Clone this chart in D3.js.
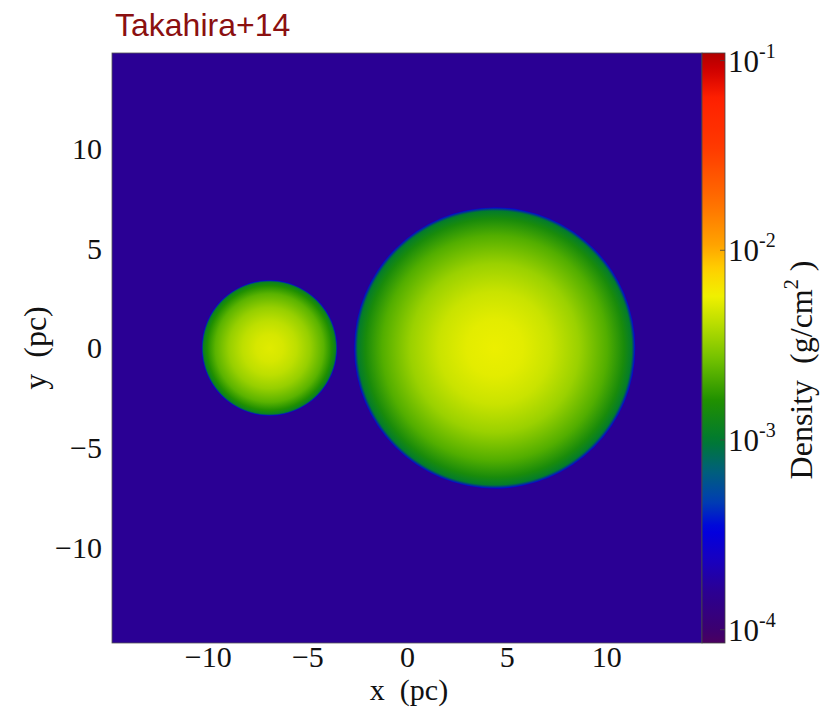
<!DOCTYPE html>
<html>
<head>
<meta charset="utf-8">
<script src="https://cdn.jsdelivr.net/npm/d3@7"></script>
<style>
  body { margin: 0; background: #fff; }
  svg { display: block; }
</style>
</head>
<body>
<div id="chart"></div>
<script>
const W = 827, H = 710;
const plot = { left: 112, top: 53, size: 590 };
const cbar = { left: 702, width: 23 };

// axis ranges (pc) and ticks
const xDomain = [-14.8, 14.8];
const yDomain = [-14.8, 14.8];
const xTicks = [-10, -5, 0, 5, 10];
const yTicks = [-10, -5, 0, 5, 10];

// clouds (pc)
const cloudNames = ["small", "large"];
const cloudX = [-6.9, 4.4];
const cloudY = [0, 0];
const cloudR = [3.4, 7.05];

// radial density profiles (g/cm^2) at fractions of the cloud radius
const profileFrac = [0, 0.2, 0.4, 0.6, 0.8, 0.92, 0.975, 1];
const smallProfile = [5.2e-3, 4.9e-3, 4.2e-3, 3.3e-3, 2.3e-3, 1.6e-3, 1.15e-3, 3.5e-4];
const largeProfile = [5.6e-3, 5.3e-3, 4.5e-3, 3.4e-3, 2.2e-3, 1.45e-3, 1.05e-3, 3.5e-4];
const backgroundDensity = 1.62e-4;

// colour bar
const cbarDomain = [Math.pow(10, -4.07), Math.pow(10, -0.96)];
const cbarExponents = [-4, -3, -2, -1];
const cmapDensity = [-4.07, -4.0, -3.79, -3.63, -3.47, -3.32, -3.16, -3.0, -2.79, -2.58, -2.37,
                     -2.24, -2.1, -1.98, -1.75, -1.45, -1.2, -1.05, -0.96].map(e => Math.pow(10, e));
const cmapColors = ["#4a0060", "#3c0070", "#2a0094", "#1800c0", "#0000e0", "#0040b0", "#00607a",
                    "#007a30", "#209000", "#70c000", "#c0e000", "#f0f000", "#ffd000", "#ffa500",
                    "#ff7000", "#ff3800", "#ff2000", "#d00000", "#b00000"];

const color = d3.scaleLog().domain(cmapDensity).range(cmapColors).interpolate(d3.interpolateRgb).clamp(true);

const x = d3.scaleLinear().domain(xDomain).range([plot.left, plot.left + plot.size]);
const y = d3.scaleLinear().domain(yDomain).range([plot.top + plot.size, plot.top]);
const cy = d3.scaleLog().domain(cbarDomain).range([plot.top + plot.size, plot.top]);

const svg = d3.select("#chart").append("svg").attr("width", W).attr("height", H);
const defs = svg.append("defs");

const serif = "'Liberation Serif', 'DejaVu Serif', serif";

// background
svg.append("rect")
  .attr("x", plot.left).attr("y", plot.top)
  .attr("width", plot.size).attr("height", plot.size)
  .attr("fill", color(backgroundDensity));

// clouds
const profiles = [smallProfile, largeProfile];
cloudNames.forEach((name, i) => {
  const g = defs.append("radialGradient").attr("id", "grad-" + name);
  g.selectAll("stop")
    .data(profileFrac)
    .join("stop")
    .attr("offset", d => d)
    .attr("stop-color", (d, j) => color(profiles[i][j]));
  svg.append("circle")
    .attr("cx", x(cloudX[i]))
    .attr("cy", y(cloudY[i]))
    .attr("r", x(cloudR[i]) - x(0))
    .attr("fill", `url(#grad-${name})`);
});

// plot frame
svg.append("rect")
  .attr("x", plot.left).attr("y", plot.top)
  .attr("width", plot.size).attr("height", plot.size)
  .attr("fill", "none").attr("stroke", "#555").attr("stroke-width", 0.8);

// colour bar gradient
const cbGrad = defs.append("linearGradient").attr("id", "cbar")
  .attr("x1", 0).attr("y1", 1).attr("x2", 0).attr("y2", 0);
const nStops = 80;
cbGrad.selectAll("stop")
  .data(d3.range(nStops + 1))
  .join("stop")
  .attr("offset", d => d / nStops)
  .attr("stop-color", d => color(cy.invert(plot.top + plot.size - d / nStops * plot.size)));

svg.append("rect")
  .attr("x", cbar.left).attr("y", plot.top)
  .attr("width", cbar.width).attr("height", plot.size)
  .attr("fill", "url(#cbar)")
  .attr("stroke", "#444").attr("stroke-width", 0.8);

// colour bar ticks
const cbTicks = svg.append("g");
cbarExponents.forEach(e => {
  const yy = cy(Math.pow(10, e));
  cbTicks.append("line")
    .attr("x1", cbar.left + cbar.width - 5).attr("x2", cbar.left + cbar.width)
    .attr("y1", yy).attr("y2", yy)
    .attr("stroke", "#444").attr("stroke-width", 0.8);
  const t = cbTicks.append("text")
    .attr("x", cbar.left + cbar.width + 3)
    .attr("y", yy + 11)
    .attr("font-family", serif)
    .attr("font-size", 31)
    .attr("fill", "#111");
  t.append("tspan").text("10");
  t.append("tspan").attr("dy", -14).attr("font-size", 20).text("-" + Math.abs(e));
});

// x axis
const xAxis = svg.append("g")
  .attr("transform", `translate(0,${plot.top + plot.size})`)
  .call(d3.axisBottom(x).tickValues(xTicks).tickSize(0).tickPadding(0)
    .tickFormat(d => d < 0 ? "\u2212" + Math.abs(d) : d));
xAxis.select(".domain").remove();
xAxis.selectAll("text")
  .attr("y", 24).attr("dy", 0)
  .attr("font-family", serif).attr("font-size", 30).attr("fill", "#111");

// y axis
const yAxis = svg.append("g")
  .attr("transform", `translate(${plot.left},0)`)
  .call(d3.axisLeft(y).tickValues(yTicks).tickSize(0).tickPadding(10)
    .tickFormat(d => d < 0 ? "\u2212" + Math.abs(d) : d));
yAxis.select(".domain").remove();
yAxis.selectAll("text")
  .attr("dy", "0.33em")
  .attr("font-family", serif).attr("font-size", 30).attr("fill", "#111");

// axis labels
svg.append("text")
  .attr("x", x(0) + 2).attr("y", 700)
  .attr("text-anchor", "middle")
  .attr("font-family", serif).attr("font-size", 30).attr("fill", "#111")
  .attr("xml:space", "preserve")
  .text("x  (pc)");

svg.append("text")
  .attr("transform", `translate(46,${y(0)}) rotate(-90)`)
  .attr("text-anchor", "middle")
  .attr("font-family", serif).attr("font-size", 32).attr("fill", "#111")
  .attr("xml:space", "preserve")
  .text("y  (pc)");

const dLabel = svg.append("text")
  .attr("transform", `translate(812,${y(0) + 22}) rotate(-90)`)
  .attr("text-anchor", "middle")
  .attr("font-family", serif).attr("font-size", 32).attr("fill", "#111")
  .attr("xml:space", "preserve");
dLabel.append("tspan").text("Density  (g/cm");
dLabel.append("tspan").attr("dy", -14).attr("font-size", 20).text("2");
dLabel.append("tspan").attr("dy", 14).text(" )");

// title
svg.append("text")
  .attr("x", 115).attr("y", 36)
  .attr("font-family", "'Liberation Sans', Arial, sans-serif")
  .attr("font-size", 32)
  .attr("fill", "#8b1010")
  .text("Takahira+14");
</script>
</body>
</html>
